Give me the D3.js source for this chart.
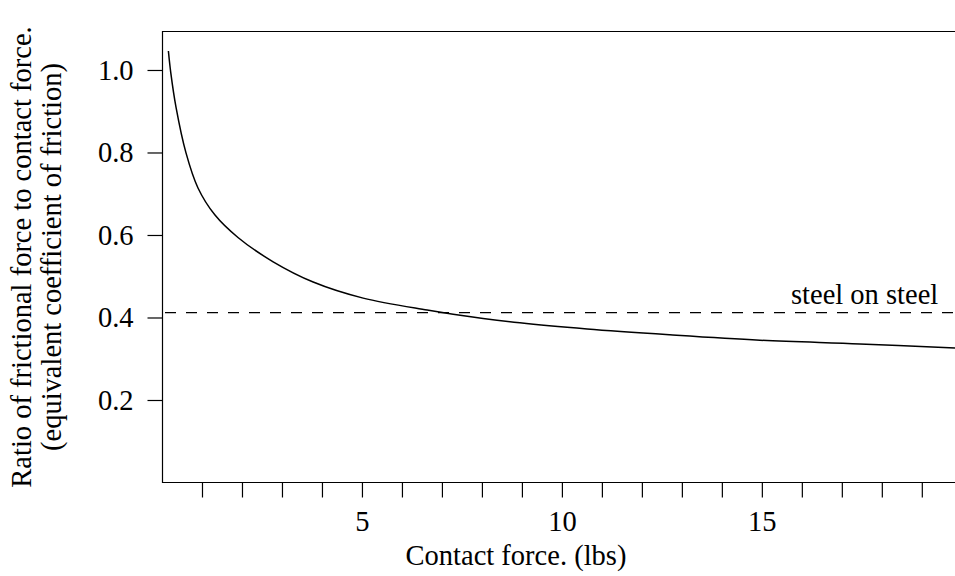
<!DOCTYPE html>
<html>
<head>
<meta charset="utf-8">
<script src="https://cdnjs.cloudflare.com/ajax/libs/d3/7.8.5/d3.min.js"></script>
<style>
  html, body { margin: 0; padding: 0; background: #fff; }
  svg { display: block; }
  svg text { font-family: "Liberation Serif", "Times New Roman", Times, serif !important; fill: #000; }
</style>
</head>
<body>
<svg id="chart" width="955" height="576"></svg>
<script>
// Contact force (lbs) and the ratio of frictional force to contact force
const forceLbs = [0.16, 0.22, 0.35, 0.6, 0.9, 1.32, 1.9, 2.78, 3.78, 5.03, 6.63, 7.28, 8.95, 10.63, 12.7, 14.95, 17.45, 19.83];
const frictionRatio = [1.046, 0.993, 0.910, 0.799, 0.714, 0.649, 0.594, 0.535, 0.486, 0.447, 0.418, 0.408, 0.387, 0.372, 0.358, 0.345, 0.336, 0.326];

// Reference coefficient for steel on steel
const steelOnSteel = 0.412;
const referenceLabel = "steel on steel";

// Axis ticks
const xTickValues = [1, 2, 3, 4, 5, 6, 7, 8, 9, 10, 11, 12, 13, 14, 15, 16, 17, 18, 19];
const xTickLabels = [5, 10, 15];
const yTickValues = [0.2, 0.4, 0.6, 0.8, 1.0];

const xTitle = "Contact force. (lbs)";
const yTitleLines = ["Ratio of frictional force to contact force.", "(equivalent coefficient of friction)"];

const serif = "Liberation Serif, Times New Roman, serif";
const fontSize = 28.5;
const plot = { left: 162.5, right: 957, top: 31.5, bottom: 482.5 };

const svg = d3.select("#chart");

const x = d3.scaleLinear().domain([0, 19.83]).range([162, 955]);
const y = d3.scaleLinear().domain([0, 1.0945]).range([482.5, 31]);

// Plot frame (right side runs off the page)
svg.append("path")
  .attr("d", `M${plot.right},${plot.top}H${plot.left}V${plot.bottom}H${plot.right}`)
  .attr("fill", "none")
  .attr("stroke", "#000")
  .attr("stroke-width", 1.2);

// x axis: minor ticks at every pound, labels at 5, 10, 15
const xAxis = d3.axisBottom(x)
  .tickValues(xTickValues)
  .tickSizeInner(15)
  .tickSizeOuter(0)
  .tickPadding(13)
  .tickFormat(d => xTickLabels.includes(d) ? d3.format("d")(d) : "");

const gx = svg.append("g")
  .attr("transform", `translate(0,${plot.bottom})`)
  .call(xAxis);
gx.attr("font-family", serif).attr("font-size", fontSize);
gx.select(".domain").remove();
gx.selectAll(".tick line").attr("stroke", "#000").attr("stroke-width", 1.2);
gx.selectAll(".tick text").attr("fill", "#000");

// y axis
const yAxis = d3.axisLeft(y)
  .tickValues(yTickValues)
  .tickSizeInner(15)
  .tickSizeOuter(0)
  .tickPadding(14)
  .tickFormat(d3.format(".1f"));

const gy = svg.append("g")
  .attr("transform", `translate(${plot.left},0)`)
  .call(yAxis);
gy.attr("font-family", serif).attr("font-size", fontSize);
gy.select(".domain").remove();
gy.selectAll(".tick line").attr("stroke", "#000").attr("stroke-width", 1.2);
gy.selectAll(".tick text").attr("fill", "#000");

// Steel-on-steel reference line
svg.append("line")
  .attr("x1", x(0)).attr("x2", 955)
  .attr("y1", y(steelOnSteel)).attr("y2", y(steelOnSteel))
  .attr("stroke", "#000")
  .attr("stroke-width", 1.2)
  .attr("stroke-dasharray", "11,10")
  .attr("stroke-dashoffset", -3);

svg.append("text")
  .attr("x", 791)
  .attr("y", y(steelOnSteel) - 9)
  .attr("font-family", serif)
  .attr("font-size", fontSize)
  .text(referenceLabel);

// Friction ratio curve
const line = d3.line()
  .x((d, i) => x(forceLbs[i]))
  .y(d => y(d))
  .curve(d3.curveCatmullRom.alpha(0.5));

svg.append("path")
  .datum(frictionRatio)
  .attr("d", line)
  .attr("fill", "none")
  .attr("stroke", "#000")
  .attr("stroke-width", 1.5);

// Axis titles
svg.append("text")
  .attr("x", 516)
  .attr("y", 565)
  .attr("text-anchor", "middle")
  .attr("font-family", serif)
  .attr("font-size", fontSize)
  .text(xTitle);

const midY = (plot.top + plot.bottom) / 2;
yTitleLines.forEach((t, i) => {
  svg.append("text")
    .attr("transform", `translate(${31 + i * 30},${midY}) rotate(-90)`)
    .attr("text-anchor", "middle")
    .attr("font-family", serif)
    .attr("font-size", fontSize)
    .text(t);
});
</script>
</body>
</html>
